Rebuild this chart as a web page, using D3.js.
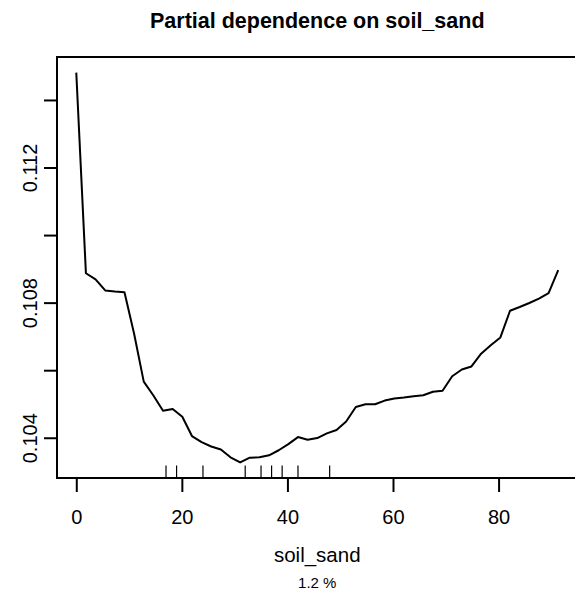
<!DOCTYPE html>
<html>
<head>
<meta charset="utf-8">
<script src="https://cdn.jsdelivr.net/npm/d3@7"></script>
<style>
  html, body { margin: 0; padding: 0; background: #fff; }
  svg { display: block; }
  text { font-family: "Liberation Sans", Arial, Helvetica, sans-serif; fill: #000; }
</style>
</head>
<body>
<div id="chart"></div>
<script>
// ---- data ----
const xMax = 91.3;
const nPoints = 51;
const pdValues = [
  0.11481, 0.10887, 0.10869, 0.10836, 0.10833, 0.10831, 0.10708, 0.10566, 0.10525, 0.10480,
  0.10485, 0.10462, 0.10405, 0.10387, 0.10374, 0.10365, 0.10342, 0.10327, 0.10341, 0.10342,
  0.10348, 0.10363, 0.10381, 0.10402, 0.10394, 0.10399, 0.10413, 0.10423, 0.10448, 0.10491,
  0.10499, 0.10499, 0.10510, 0.10516, 0.10519, 0.10523, 0.10526, 0.10536, 0.10539, 0.10582,
  0.10602, 0.10611, 0.10649, 0.10674, 0.10697, 0.10776, 0.10787, 0.10799, 0.10812, 0.10828,
  0.10896
];
const sandGrid = d3.range(nPoints).map(i => i * xMax / (nPoints - 1));
const rugValues = [17, 19, 24, 32, 35, 37, 39, 42, 48];
const xTicks = [0, 20, 40, 60, 80];
const yTicks = [0.104, 0.106, 0.108, 0.110, 0.112, 0.114];
const yTickLabels = ["0.104", "", "0.108", "", "0.112", ""];
const titleText = "Partial dependence on soil_sand";
const xLabel = "soil_sand";
const subLabel = "1.2 %";

// ---- layout ----
const W = 575, H = 595;
const plot = { left: 57, right: 577.5, top: 57, bottom: 478 };

const svg = d3.select("#chart").append("svg")
  .attr("width", W).attr("height", H);

function expand(lo, hi) { const d = (hi - lo) * 0.04; return [lo - d, hi + d]; }

const x = d3.scaleLinear()
  .domain(expand(0, xMax))
  .range([plot.left, plot.right]);
const y = d3.scaleLinear()
  .domain(expand(d3.min(pdValues), d3.max(pdValues)))
  .range([plot.bottom, plot.top]);

// box (left, top, bottom; right edge is beyond the window)
svg.append("rect")
  .attr("x", plot.left).attr("y", plot.top)
  .attr("width", plot.right - plot.left).attr("height", plot.bottom - plot.top)
  .attr("fill", "none").attr("stroke", "#000").attr("stroke-width", 2);

// x axis
const xAxis = d3.axisBottom(x).tickValues(xTicks).tickSize(14).tickPadding(18)
  .tickFormat(d3.format("d"));
const gx = svg.append("g").attr("transform", `translate(0,${plot.bottom})`).call(xAxis);
gx.select(".domain").remove();
gx.selectAll(".tick line").attr("stroke", "#000").attr("stroke-width", 2);
gx.selectAll(".tick text").attr("font-size", 20).attr("dy", null)
  .attr("y", 45.5).attr("font-family", "Liberation Sans, Arial, sans-serif");

// y axis
const yAxis = d3.axisLeft(y).tickValues(yTicks).tickSize(13)
  .tickFormat((d, i) => yTickLabels[i]);
const gy = svg.append("g").attr("transform", `translate(${plot.left},0)`).call(yAxis);
gy.select(".domain").remove();
gy.selectAll(".tick line").attr("stroke", "#000").attr("stroke-width", 2);
gy.selectAll(".tick text")
  .attr("font-size", 20)
  .attr("font-family", "Liberation Sans, Arial, sans-serif")
  .attr("x", null).attr("dy", null)
  .attr("text-anchor", "middle")
  .attr("transform", "translate(-20,0) rotate(-90)");

// rug
svg.append("g").selectAll("line").data(rugValues).join("line")
  .attr("x1", d => x(d)).attr("x2", d => x(d))
  .attr("y1", plot.bottom).attr("y2", plot.bottom - 12.5)
  .attr("stroke", "#000").attr("stroke-width", 1.2);

// curve
const line = d3.line().x((d, i) => x(sandGrid[i])).y(d => y(d));
svg.append("path").datum(pdValues)
  .attr("d", line)
  .attr("fill", "none").attr("stroke", "#000").attr("stroke-width", 2)
  .attr("stroke-linejoin", "round");

// titles
const cx = (plot.left + plot.right) / 2;
svg.append("text").attr("x", cx).attr("y", 27.5)
  .attr("text-anchor", "middle").attr("font-weight", "bold").attr("font-size", 21.5)
  .text(titleText);
svg.append("text").attr("x", cx).attr("y", 561.5)
  .attr("text-anchor", "middle").attr("font-size", 20.5)
  .text(xLabel);
svg.append("text").attr("x", cx).attr("y", 587.5)
  .attr("text-anchor", "middle").attr("font-size", 15)
  .text(subLabel);
</script>
</body>
</html>
